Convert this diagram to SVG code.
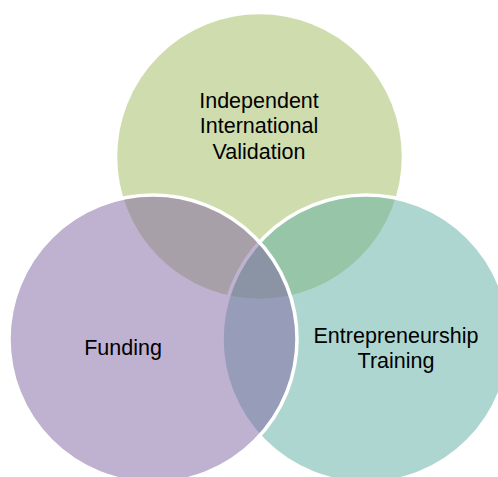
<svg xmlns="http://www.w3.org/2000/svg" width="498" height="477" viewBox="0 0 498 477">
  <style>
    .c { fill-opacity: 0.5; stroke: #ffffff; stroke-width: 3.5; }
    .t { font-family: "Liberation Sans", Arial, sans-serif; font-size: 21.5px; fill: #000000; text-anchor: middle; }
  </style>
  <rect width="498" height="477" fill="#ffffff"/>
  <g id="node-validation">
    <circle class="c" cx="259.5" cy="156.5" r="144" fill="#9FBB5D"/>
    <text class="t" x="259" y="107.5">Independent</text>
    <text class="t" x="259" y="133">International</text>
    <text class="t" x="259" y="159">Validation</text>
  </g>
  <g id="node-training">
    <circle class="c" cx="366" cy="339" r="144" fill="#5DADA1"/>
    <text class="t" x="396" y="342.5">Entrepreneurship</text>
    <text class="t" x="396" y="367.5">Training</text>
  </g>
  <g id="node-funding">
    <circle class="c" cx="153" cy="339" r="144" fill="#8064A2"/>
    <text class="t" x="123" y="355">Funding</text>
  </g>
</svg>
